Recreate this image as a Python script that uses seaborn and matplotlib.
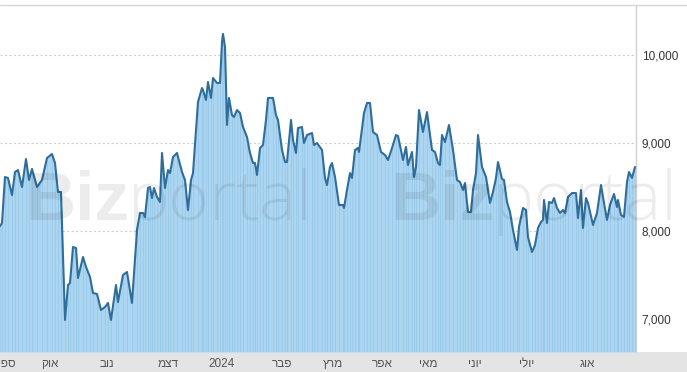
import matplotlib
matplotlib.use("Agg")
import matplotlib.pyplot as plt
import seaborn as sns
from matplotlib.patches import Rectangle
from matplotlib.lines import Line2D

# session position along the time axis (trading-session scale) and closing values
t = [0, 2, 5, 8, 12, 15, 18, 22, 26, 29, 32, 37, 42, 47, 52, 55, 58, 61, 65, 68,
     70, 73, 76, 78, 83, 86, 90, 93, 97, 101, 105, 108, 111, 116, 118, 123, 127, 132, 137, 140,
     143, 145, 148, 150, 152, 154, 157, 160, 162, 165, 168, 170, 173, 177, 182, 185, 188, 191, 193, 198,
     202, 203, 206, 208, 211, 213, 217, 220, 222, 223, 225, 227, 229, 232, 234, 237, 240, 243, 247, 250,
     253, 255, 257, 260, 263, 266, 268, 273, 276, 278, 282, 285, 287, 291, 293, 296, 298, 302, 304, 307,
     312, 314, 317, 322, 325, 327, 330, 332, 335, 339, 343, 344, 347, 350, 352, 355, 358, 359, 364, 367,
     370, 373, 377, 381, 385, 388, 392, 396, 398, 403, 406, 408, 412, 414, 416, 419, 423, 427, 432, 435,
     438, 440, 442, 445, 449, 453, 457, 460, 463, 465, 468, 471, 473, 476, 478, 482, 486, 490, 493, 496,
     498, 502, 504, 507, 510, 513, 517, 519, 523, 526, 528, 532, 535, 538, 541, 543, 544, 547, 549, 552,
     554, 557, 560, 563, 565, 568, 572, 576, 578, 581, 583, 586, 588, 593, 597, 601, 604, 607, 610, 614,
     617, 618, 621, 624, 627, 629, 632, 635]
close = [8057, 8091, 8614, 8603, 8409, 8671, 8693, 8500, 8818, 8580, 8705, 8500, 8580, 8830, 8875, 8773, 8444, 8444, 6990, 7387,
         7410, 7819, 7807, 7467, 7705, 7592, 7478, 7296, 7285, 7103, 7137, 7183, 6990, 7387, 7194, 7501, 7535, 7183, 8012, 8205,
         8205, 8160, 8489, 8500, 8375, 8489, 8387, 8330, 8887, 8489, 8693, 8659, 8841, 8887, 8671, 8580, 8239, 8580, 8659, 9466,
         9625, 9602, 9489, 9693, 9512, 9739, 9682, 9682, 10148, 10239, 10091, 9205, 9512, 9318, 9296, 9375, 9341, 9182, 9068, 8887,
         8773, 8773, 8637, 8943, 8978, 9262, 9512, 9512, 9318, 9262, 8921, 8784, 8784, 9262, 9034, 8887, 9171, 9182, 9000, 9091,
         9114, 8978, 9000, 8921, 8603, 8523, 8728, 8773, 8614, 8296, 8296, 8262, 8466, 8659, 8603, 8921, 8943, 8898, 9341, 9455,
         9455, 9125, 9091, 8898, 8864, 8807, 8943, 9091, 9080, 8807, 8955, 8750, 8898, 8614, 8728, 9375, 9125, 9352, 8921, 8898,
         8773, 8750, 9091, 9011, 9205, 8921, 8580, 8557, 8466, 8546, 8216, 8216, 8466, 8659, 9091, 8728, 8614, 8319, 8444, 8603,
         8784, 8591, 8580, 8330, 8216, 8012, 7785, 8046, 8262, 8239, 7932, 7762, 7842, 8035, 8103, 8126, 8353, 8091, 8330, 8319,
         8375, 8262, 8205, 8239, 8205, 8387, 8432, 8432, 8148, 8466, 8035, 8375, 8319, 8069, 8205, 8523, 8319, 8126, 8296, 8421,
         8273, 8353, 8182, 8160, 8557, 8671, 8603, 8728]

month_labels = ["ספט", "אוק", "נוב", "דצמ", "2024", "פבר", "מרץ", "אפר", "מאי", "יוני", "יולי", "אוג"]
month_pos = [4, 50, 107, 168, 222, 282, 333, 382, 428, 475, 527, 587]
y_ticks = [7000, 8000, 9000, 10000]
y_tick_labels = ["7,000", "8,000", "9,000", "10,000"]


def visual(s):
    # matplotlib has no bidi support: lay Hebrew out right-to-left by reversing
    if any("\u0590" <= ch <= "\u05FF" for ch in s):
        return s[::-1]
    return s


sns.set_theme(style="white")
plt.rcParams["font.family"] = ["Liberation Sans", "DejaVu Sans"]

W, H = 687, 372
fig = plt.figure(figsize=(W / 100, H / 100), dpi=100)
fig.patch.set_facecolor("white")

# bottom gray strip (behind the axes and its tick labels)
fig.patches.append(Rectangle((0, 0), 1, 20 / H, transform=fig.transFigure,
                             facecolor="#e4e4e4", edgecolor="none", zorder=-5))
# top border line
fig.lines.append(Line2D([0, 1], [1 - 4.5 / H, 1 - 4.5 / H], transform=fig.transFigure,
                        color="#d6d6d6", lw=1.0, zorder=10))

ax = fig.add_axes([0, 20 / H, 636 / W, 347 / H])
ax.set_zorder(1)
ax.set_facecolor("white")
ymin, ymax = 6626, 10568

for v in y_ticks:
    ax.axhline(v, color="#cfcfcf", lw=0.8, ls=(0, (2, 2)), zorder=0.5)

ax.fill_between(t, close, ymin, color="#acd5f1", lw=0, zorder=1)
ax.vlines(t, ymin, close, color="#9ac8e8", lw=0.6, zorder=1.2)
sns.lineplot(x=t, y=close, ax=ax, color="#2f6e9b", lw=1.5, sort=False,
             estimator=None, zorder=3)

ax.set_xlim(0, 636)
ax.set_ylim(ymin, ymax)
ax.set_xlabel("")
ax.set_ylabel("")

for s in ["top", "left", "bottom"]:
    ax.spines[s].set_visible(False)
ax.spines["right"].set_color("#d0d0d0")
ax.spines["right"].set_linewidth(1.0)

ax.yaxis.tick_right()
ax.set_yticks(y_ticks, y_tick_labels)
ax.tick_params(axis="y", length=0, pad=4, labelsize=8.5, labelcolor="#333333")

ax.set_xticks(month_pos, [visual(s) for s in month_labels])
ax.tick_params(axis="x", length=0, pad=4, labelsize=8.5, labelcolor="#555555")

# faint site watermark
for x0, x1 in [(25, 128), (390, 493)]:
    fig.text(x0 / W, 1 - 220 / H, "Biz", fontsize=50, fontweight="bold",
             color="black", alpha=0.075, ha="left", va="baseline",
             family=["Liberation Sans", "DejaVu Sans"], zorder=5)
    fig.text(x1 / W, 1 - 220 / H, "portal", fontsize=50, fontweight="light",
             color="black", alpha=0.075, ha="left", va="baseline",
             family=["Open Sans", "DejaVu Sans"], zorder=5)

fig.savefig("out.png", dpi=100)
